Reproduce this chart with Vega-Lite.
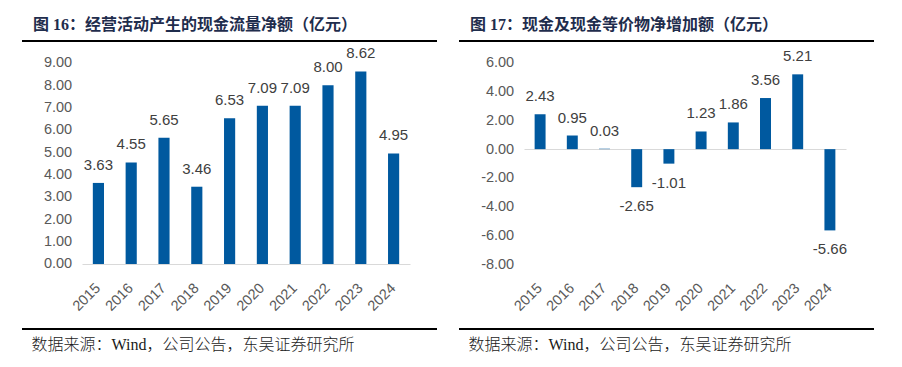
{
  "$schema": "https://vega.github.io/schema/vega-lite/v6.json",
  "padding": {"left": 21, "top": 16, "right": 10, "bottom": 5},
  "spacing": 20,
  "config": {
    "view": {"stroke": null},
    "axis": {"labelOverlap": false, "grid": false, "ticks": false, "tickSize": 0},
    "axisY": {"domain": false, "labelPadding": 0, "labelFont": "Liberation Sans", "labelFontSize": 14.5, "labelColor": "#595959", "labelOverlap": false},
    "locale": {"number": {"decimal": ".", "thousands": ",", "grouping": [3], "currency": ["", ""], "minus": "-"}}
  },
  "datasets": {
    "ocf": [
      {"year": "2015", "value": 3.63},
      {"year": "2016", "value": 4.55},
      {"year": "2017", "value": 5.65},
      {"year": "2018", "value": 3.46},
      {"year": "2019", "value": 6.53},
      {"year": "2020", "value": 7.09},
      {"year": "2021", "value": 7.09},
      {"year": "2022", "value": 8.00},
      {"year": "2023", "value": 8.62},
      {"year": "2024", "value": 4.95}
    ],
    "cash": [
      {"year": "2015", "value": 2.43},
      {"year": "2016", "value": 0.95},
      {"year": "2017", "value": 0.03},
      {"year": "2018", "value": -2.65},
      {"year": "2019", "value": -1.01},
      {"year": "2020", "value": 1.23},
      {"year": "2021", "value": 1.86},
      {"year": "2022", "value": 3.56},
      {"year": "2023", "value": 5.21},
      {"year": "2024", "value": -5.66}
    ]
  },
  "hconcat": [
    {
      "width": 415,
      "height": 288,
      "data": {"name": "ocf"},
      "title": {"text": "图 16：经营活动产生的现金流量净额（亿元）", "anchor": "start", "frame": "group", "dx": 11, "offset": -5, "fontSize": 16, "font": "Liberation Serif, Noto Sans CJK SC", "fontWeight": "bold", "color": "#1f2d4d", "baseline": "alphabetic"},
      "resolve": {"axis": {"x": "independent"}},
      "layer": [
        {
          "mark": {"type": "bar", "color": "#00599f"},
          "encoding": {
            "x": {"field": "year", "type": "ordinal",
              "scale": {"range": [60, 388], "paddingInner": 0.66, "paddingOuter": 0.33},
              "axis": {"orient": "bottom", "title": "数据来源：Wind，公司公告，东吴证券研究所", "titleAnchor": "start", "titleAlign": "left", "titleX": 9, "titleY": 20, "titleBaseline": "alphabetic", "titleFont": "Liberation Serif, Noto Sans CJK SC", "titleFontSize": 16, "titleFontWeight": 300, "titleColor": "#1a1a1a",
                "labelAngle": -45, "labelAlign": "right", "labelBaseline": "middle", "labelPadding": -43.3, "labelFont": "Liberation Sans", "labelFontSize": 14.5, "labelColor": "#595959", "domain": false}},
            "y": {"field": "value", "type": "quantitative",
              "scale": {"domain": [-2.911, 9.985], "nice": false, "zero": false},
              "axis": {"title": null, "values": [0, 1, 2, 3, 4, 5, 6, 7, 8, 9], "format": ".2f", "offset": -49.7}}
          }
        },
        {
          "mark": {"type": "text", "baseline": "alphabetic", "dy": -13, "font": "Liberation Sans", "fontSize": 15, "color": "#404040"},
          "encoding": {
            "x": {"field": "year", "type": "ordinal",
              "axis": {"orient": "bottom", "title": null, "labels": false, "domain": true, "domainColor": "#d9d9d9", "offset": -65}},
            "y": {"field": "value", "type": "quantitative",
              "axis": {"title": null, "values": [0, 1, 2, 3, 4, 5, 6, 7, 8, 9], "format": ".2f", "offset": -49.7}},
            "text": {"field": "value", "type": "quantitative", "format": ".2f"}
          }
        },
        {"mark": {"type": "rule", "color": "#000000", "strokeWidth": 1}, "encoding": {"y": {"datum": 9.985, "axis": {"title": null, "values": [0, 1, 2, 3, 4, 5, 6, 7, 8, 9], "format": ".2f", "offset": -49.7}}}},
        {"mark": {"type": "rule", "color": "#000000", "strokeWidth": 1}, "encoding": {"y": {"datum": -2.911, "axis": {"title": null, "values": [0, 1, 2, 3, 4, 5, 6, 7, 8, 9], "format": ".2f", "offset": -49.7}}}}
      ]
    },
    {
      "width": 415,
      "height": 288,
      "data": {"name": "cash"},
      "title": {"text": "图 17：现金及现金等价物净增加额（亿元）", "anchor": "start", "frame": "group", "dx": 11, "offset": -5, "fontSize": 16, "font": "Liberation Serif, Noto Sans CJK SC", "fontWeight": "bold", "color": "#1f2d4d", "baseline": "alphabetic"},
      "resolve": {"axis": {"x": "independent"}},
      "layer": [
        {
          "mark": {"type": "bar", "color": "#00599f"},
          "encoding": {
            "x": {"field": "year", "type": "ordinal",
              "scale": {"range": [65, 387], "paddingInner": 0.66, "paddingOuter": 0.33},
              "axis": {"orient": "bottom", "title": "数据来源：Wind，公司公告，东吴证券研究所", "titleAnchor": "start", "titleAlign": "left", "titleX": 9, "titleY": 20, "titleBaseline": "alphabetic", "titleFont": "Liberation Serif, Noto Sans CJK SC", "titleFontSize": 16, "titleFontWeight": 300, "titleColor": "#1a1a1a",
                "labelAngle": -45, "labelAlign": "right", "labelBaseline": "middle", "labelPadding": -43.3, "labelFont": "Liberation Sans", "labelFontSize": 14.5, "labelColor": "#595959", "domain": false}},
            "y": {"field": "value", "type": "quantitative",
              "scale": {"domain": [-12.527, 7.532], "nice": false, "zero": false},
              "axis": {"title": null, "values": [-8, -6, -4, -2, 0, 2, 4, 6], "format": ".2f", "offset": -54.7}}
          }
        },
        {
          "transform": [{"filter": "datum.value >= 0"}],
          "mark": {"type": "text", "baseline": "alphabetic", "dy": -13, "font": "Liberation Sans", "fontSize": 15, "color": "#404040"},
          "encoding": {
            "x": {"field": "year", "type": "ordinal",
              "axis": {"orient": "bottom", "title": null, "labels": false, "domain": true, "domainColor": "#d9d9d9", "offset": -180}},
            "y": {"field": "value", "type": "quantitative",
              "axis": {"title": null, "values": [-8, -6, -4, -2, 0, 2, 4, 6], "format": ".2f", "offset": -54.7}},
            "text": {"field": "value", "type": "quantitative", "format": ".2f"}
          }
        },
        {
          "transform": [{"filter": "datum.value < 0"}],
          "mark": {"type": "text", "baseline": "alphabetic", "dy": 24, "font": "Liberation Sans", "fontSize": 15, "color": "#404040"},
          "encoding": {
            "x": {"field": "year", "type": "ordinal", "axis": null},
            "y": {"field": "value", "type": "quantitative",
              "axis": {"title": null, "values": [-8, -6, -4, -2, 0, 2, 4, 6], "format": ".2f", "offset": -54.7}},
            "text": {"field": "value", "type": "quantitative", "format": ".2f"}
          }
        },
        {"mark": {"type": "rule", "color": "#000000", "strokeWidth": 1}, "encoding": {"y": {"datum": 7.532, "axis": {"title": null, "values": [-8, -6, -4, -2, 0, 2, 4, 6], "format": ".2f", "offset": -54.7}}}},
        {"mark": {"type": "rule", "color": "#000000", "strokeWidth": 1}, "encoding": {"y": {"datum": -12.527, "axis": {"title": null, "values": [-8, -6, -4, -2, 0, 2, 4, 6], "format": ".2f", "offset": -54.7}}}}
      ]
    }
  ]
}
